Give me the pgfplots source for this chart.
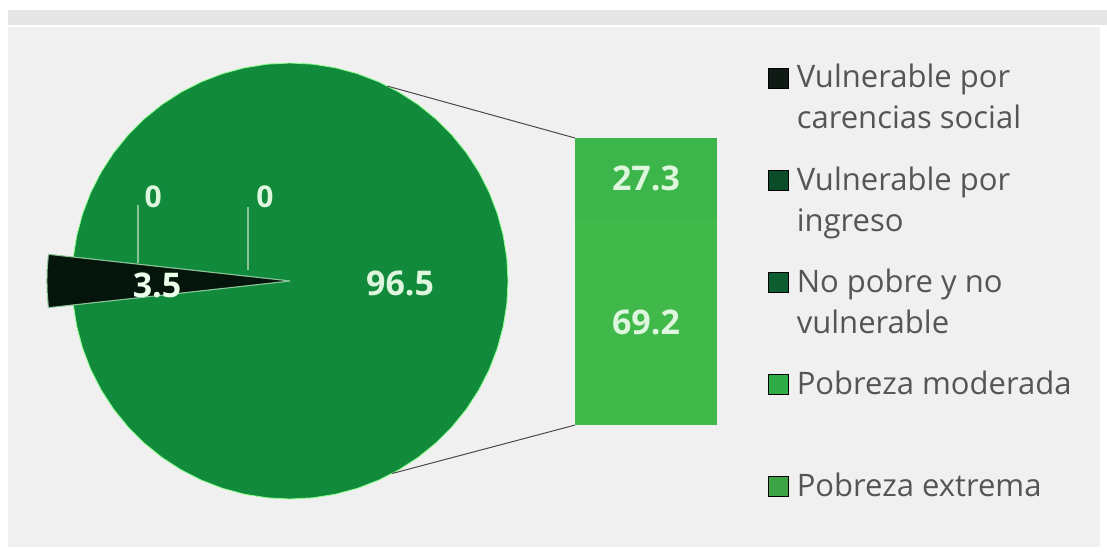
\documentclass[border=0pt]{standalone}
\usepackage{fontspec}
\setmainfont{Open Sans}
\usepackage{pgfplots}
\pgfplotsset{compat=1.18}

\definecolor{pieGreen}{HTML}{128A3C}
\definecolor{pieBlack}{HTML}{06150B}
\definecolor{barTop}{HTML}{3CB64A}
\definecolor{barBot}{HTML}{41B84A}
\definecolor{legA}{HTML}{0F1A14}
\definecolor{legB}{HTML}{0A4D28}
\definecolor{legC}{HTML}{0E5E32}
\definecolor{legD}{HTML}{30AC47}
\definecolor{legE}{HTML}{3DA446}
\definecolor{labTxt}{HTML}{DDF6DD}
\definecolor{legTxt}{HTML}{555555}
\definecolor{panel}{HTML}{F0F0F0}
\definecolor{band}{HTML}{E6E6E6}
\definecolor{leader}{HTML}{8CC49A}
\definecolor{conn}{HTML}{4A4A4A}

% two-line legend entry, baseline on the first line
\newcommand{\lline}[1]{\hbox{\vrule height 14pt depth 6pt width 0pt #1}}
\newcommand{\lentry}[2]{\vtop{\baselineskip=20.5pt\lline{#1}\lline{#2}}}
\newcommand{\numfont}{\bfseries\fontsize{17}{20}\selectfont}

\begin{document}
\begin{tikzpicture}
% canvas: 1107 x 551 px, 0.5pt per px
\fill[white] (0,0) rectangle (553.5pt,275.5pt);
\fill[band] (4pt,263pt) rectangle (553.5pt,270.5pt);
\fill[panel] (4pt,2pt) rectangle (550pt,262pt);

% pie: radius 1 = 218 px
\begin{axis}[
  at={(145pt,135pt)}, anchor=center,
  scale only axis, width=261.6pt, height=228.9pt,
  xmin=-1.2, xmax=1.2, ymin=-1.05, ymax=1.05,
  hide axis, clip=false,
  legend image code/.code={\fill[#1] (0pt,0pt) rectangle (10pt,10pt);},
  legend style={at={(1.4136,0.9828)}, anchor=north west,
    draw=none, fill=none, inner sep=0pt, outer sep=0pt,
    row sep=35.6pt, column sep=4pt,
    font=\fontsize{15.5}{20.5}\selectfont, text=legTxt,
    cells={anchor=base west}, nodes={inner sep=0pt, outer sep=0pt}},
]
\addlegendimage{fill=legA}
\addlegendimage{fill=legB}
\addlegendimage{fill=legC}
\addlegendimage{fill=legD}
\addlegendimage{fill=legE}
\legend{{\lentry{Vulnerable por}{carencias social}},
        {\lentry{Vulnerable por}{ingreso}},
        {\lentry{No pobre y no}{vulnerable}},
        {\lentry{Pobreza moderada}{}},
        {\lentry{Pobreza extrema}{}}}

% 96.5 % -> 347.4 deg, from -173.7 to 173.7
\addplot[fill=pieGreen, draw=green!45!white, line width=0.4pt, data cs=polar, forget plot]
  coordinates {(0,0) (-173.7,1) (-168,1) (-162,1) (-156,1) (-150,1) (-144,1)
  (-138,1) (-132,1) (-126,1) (-120,1) (-114,1) (-108,1) (-102,1) (-96,1)
  (-90,1) (-84,1) (-78,1) (-72,1) (-66,1) (-60,1) (-54,1) (-48,1) (-42,1)
  (-36,1) (-30,1) (-24,1) (-18,1) (-12,1) (-6,1) (0,1) (6,1) (12,1) (18,1)
  (24,1) (30,1) (36,1) (42,1) (48,1) (54,1) (60,1) (66,1) (72,1) (78,1)
  (84,1) (90,1) (96,1) (102,1) (108,1) (114,1) (120,1) (126,1) (132,1)
  (138,1) (144,1) (150,1) (156,1) (162,1) (168,1) (173.7,1) (0,0)};
% 3.5 % -> 12.6 deg, pulled out
\addplot[fill=pieBlack, draw=leader, line width=0.5pt, data cs=polar, forget plot]
  coordinates {(0,0) (173.7,1.115) (177,1.115) (180,1.115) (183,1.115) (186.3,1.115) (0,0)};

% leader lines for the two zero slices
\addplot[leader, line width=0.6pt, forget plot] coordinates {(-0.697,0.349) (-0.697,0.083)};
\addplot[leader, line width=0.6pt, forget plot] coordinates {(-0.193,0.339) (-0.193,0.050)};

% connectors to the bar
\addplot[conn, line width=0.5pt, forget plot] coordinates {(0.447,0.894) (1.307,0.656)};
\addplot[conn, line width=0.5pt, forget plot] coordinates {(0.469,-0.883) (1.307,-0.661)};

\node[text=labTxt, font=\bfseries\fontsize{15}{17}\selectfont] at (axis cs:-0.628,0.385) {0};
\node[text=labTxt, font=\bfseries\fontsize{15}{17}\selectfont] at (axis cs:-0.115,0.385) {0};
\node[text=white!92!green, font=\numfont] at (axis cs:-0.610,-0.018) {3.5};
\node[text=labTxt, font=\numfont] at (axis cs:0.505,-0.009) {96.5};
\end{axis}

% bar of the 96.5 slice
\begin{axis}[
  at={(287.5pt,63pt)}, anchor=south west,
  scale only axis, width=71pt, height=143.5pt,
  xmin=-0.5, xmax=0.5, ymin=0, ymax=96.5,
  ybar stacked, bar width=71pt,
  hide axis, clip=false,
]
\addplot[fill=barBot, draw=none] coordinates {(0,69.2)};
\addplot[fill=barTop, draw=none] coordinates {(0,27.3)};
\end{axis}

% same frame again, only for the segment labels (drawn above the bars)
\begin{axis}[
  at={(287.5pt,63pt)}, anchor=south west,
  scale only axis, width=71pt, height=143.5pt,
  xmin=-0.5, xmax=0.5, ymin=0, ymax=96.5,
  hide axis, clip=false,
]
\node[text=labTxt, font=\numfont] at (axis cs:0,82.85) {27.3};
\node[text=labTxt, font=\numfont] at (axis cs:0,34.6) {69.2};
\end{axis}
\end{tikzpicture}
\end{document}
